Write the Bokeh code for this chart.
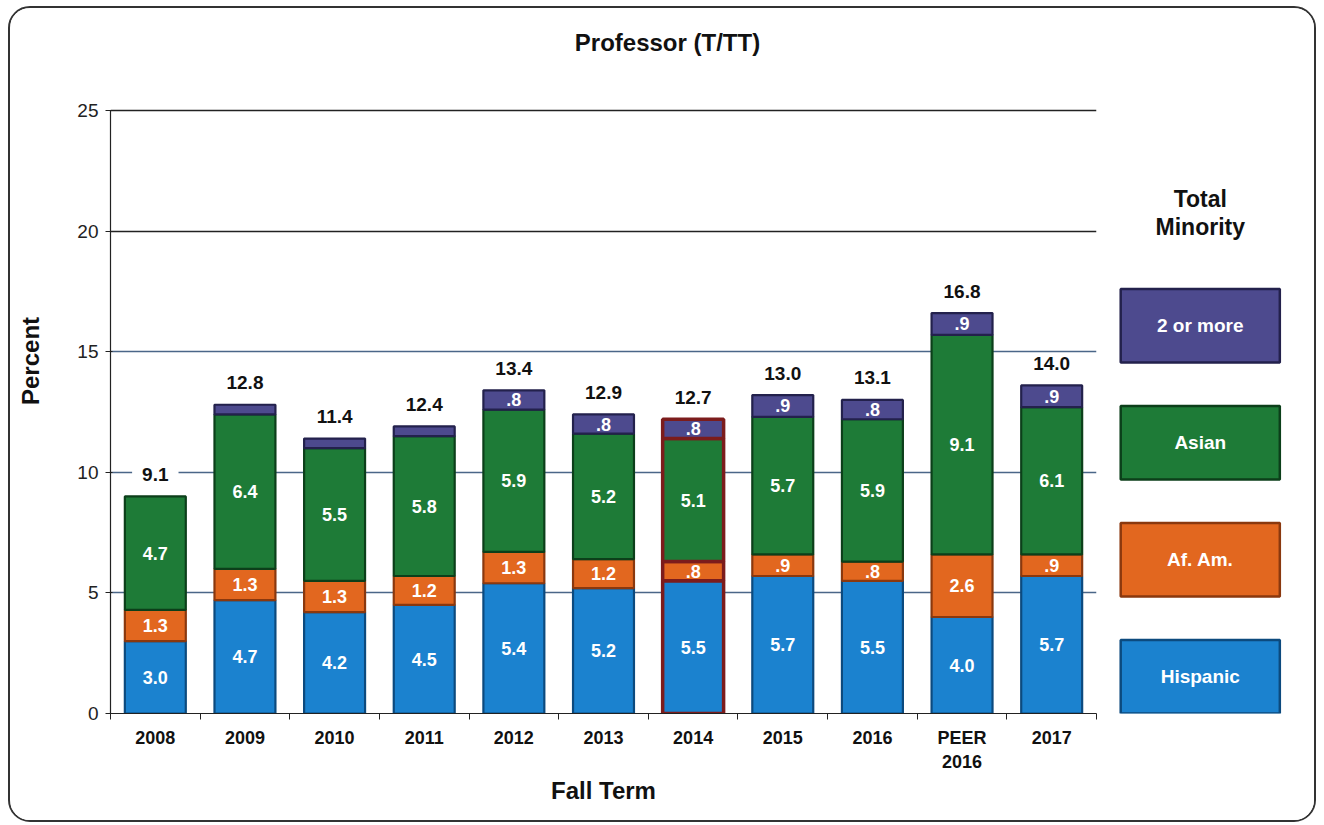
from bokeh.plotting import figure
from bokeh.layouts import row
from bokeh.models import ColumnDataSource, Range1d, FixedTicker, Grid, Label
from bokeh.core.properties import value
from bokeh.embed import file_html
from bokeh.resources import INLINE

# ---------------- data ----------------
categories = ["2008", "2009", "2010", "2011", "2012", "2013", "2014",
              "2015", "2016", "PEER\n2016", "2017"]
hispanic = [3.0, 4.7, 4.2, 4.5, 5.4, 5.2, 5.5, 5.7, 5.5, 4.0, 5.7]
af_am = [1.3, 1.3, 1.3, 1.2, 1.3, 1.2, 0.8, 0.9, 0.8, 2.6, 0.9]
asian = [4.7, 6.4, 5.5, 5.8, 5.9, 5.2, 5.1, 5.7, 5.9, 9.1, 6.1]
two_or_more = [0.0, 0.4, 0.4, 0.4, 0.8, 0.8, 0.8, 0.9, 0.8, 0.9, 0.9]
totals = [9.1, 12.8, 11.4, 12.4, 13.4, 12.9, 12.7, 13.0, 13.1, 16.8, 14.0]
y_ticks = [0, 5, 10, 15, 20, 25]

series_names = ["Hispanic", "Af. Am.", "Asian", "2 or more"]
series_values = [hispanic, af_am, asian, two_or_more]
series_colors = ["#1b82cf", "#e2671f", "#1e7b37", "#4d4a8e"]
edge_colors = ["#0c4a7e", "#8a380e", "#0c3f1a", "#23214c"]
highlight = "2014"
highlight_edge = "#7c1c1c"

TITLE = "Professor (T/TT)"
FONT = "Liberation Sans"


def fmt(v):
    s = f"{v:.1f}"
    return s[1:] if s.startswith("0") else s


n = len(categories)
xpos = [i + 0.5 for i in range(n)]

W, H = 1100, 812
BL, BB = 100, 107
TOP_GAP = 102                     # pixels between the canvas top and the 25 line
frame_h = H - BB
y_max = 25.0
y_end = y_max * frame_h / (frame_h - TOP_GAP)

p = figure(width=W, height=H, x_range=Range1d(0, n), y_range=Range1d(0, y_end),
           output_backend="svg", toolbar_location=None,
           min_border_left=BL, min_border_right=14,
           min_border_top=0, min_border_bottom=BB,
           outline_line_color=None, background_fill_color="white",
           border_fill_color="white")

# title (screen units measured from the frame's bottom-left corner)
title = Label(x=657 - BL, y=frame_h - 34, x_units="screen", y_units="screen",
              text=TITLE, text_font=FONT, text_font_size="24px",
              text_font_style="bold", text_color="#111111",
              text_align="center", text_baseline="middle")
p.add_layout(title)

# grids
p.xgrid.visible = False
p.ygrid[0].ticker = FixedTicker(ticks=[5, 10, 15])
p.ygrid[0].grid_line_color = "#4a6688"
p.ygrid[0].grid_line_width = 1.3
g2 = Grid(dimension=1, ticker=FixedTicker(ticks=[20, 25]),
          grid_line_color="#222222", grid_line_width=1.5)
p.add_layout(g2)

# x axis
xa = p.xaxis[0]
xa.ticker = FixedTicker(ticks=xpos, minor_ticks=list(range(n + 1)))
xa.major_label_overrides = {x: c for x, c in zip(xpos, categories)}
xa.major_tick_line_color = None
xa.major_tick_out = 0
xa.major_tick_in = 0
xa.minor_tick_line_color = "#222222"
xa.minor_tick_out = 6
xa.minor_tick_in = 0
xa.axis_line_color = "#222222"
xa.axis_line_width = 1.2
xa.major_label_text_font = FONT
xa.major_label_text_font_size = "18px"
xa.major_label_text_font_style = "bold"
xa.major_label_text_color = "#111111"
xa.major_label_standoff = 8
xa.axis_label = "Fall Term"
xa.axis_label_text_font = FONT
xa.axis_label_text_font_size = "24px"
xa.axis_label_text_font_style = "bold"
xa.axis_label_text_color = "#111111"
xa.axis_label_standoff = 2

# y axis
ya = p.yaxis[0]
ya.bounds = (0, y_max)
ya.ticker = FixedTicker(ticks=y_ticks)
ya.minor_tick_line_color = None
ya.major_tick_out = 5
ya.major_tick_in = 2
ya.major_tick_line_color = "#222222"
ya.axis_line_color = "#222222"
ya.axis_line_width = 1.2
ya.major_label_text_font = FONT
ya.major_label_text_font_size = "19px"
ya.major_label_text_color = "#222222"
ya.major_label_standoff = 7
ya.axis_label = "Percent"
ya.axis_label_text_font = FONT
ya.axis_label_text_font_size = "24px"
ya.axis_label_text_font_style = "bold"
ya.axis_label_text_color = "#111111"
ya.axis_label_standoff = 30

# stacked bars
bottom = [0.0] * n
for name, vals, col, edge in zip(series_names, series_values, series_colors, edge_colors):
    xs, bs, ts, lcs, lws, mids, labs, lxs = [], [], [], [], [], [], [], []
    for i in range(n):
        v = vals[i]
        b = bottom[i]
        t = b + v
        bottom[i] = t
        if v <= 0:
            continue
        xs.append(xpos[i])
        bs.append(b)
        ts.append(t)
        hl = categories[i] == highlight
        lcs.append(highlight_edge if hl else edge)
        lws.append(3.5 if hl else 2.2)
        if v >= 0.5:
            lxs.append(xpos[i])
            mids.append((b + t) / 2)
            labs.append(fmt(v))
    src = ColumnDataSource(dict(x=xs, bottom=bs, top=ts, lc=lcs, lw=lws))
    p.vbar(x="x", bottom="bottom", top="top", width=0.68, source=src,
           fill_color=col, line_color="lc", line_width="lw")
    lsrc = ColumnDataSource(dict(x=lxs, y=mids, text=labs))
    p.text(x="x", y="y", text="text", source=lsrc, text_color="white",
           text_font=value(FONT), text_font_size="18px", text_font_style="bold",
           text_align="center", text_baseline="middle")

# totals above bars
tsrc = ColumnDataSource(dict(x=xpos, y=bottom, text=[f"{t:.1f}" for t in totals]))
p.text(x="x", y="y", text="text", source=tsrc, y_offset=-22,
       text_color="#111111", text_font=value(FONT), text_font_size="19px",
       text_font_style="bold", text_align="center", text_baseline="middle",
       background_fill_color="white", padding=(10, 3))

# ---------------- legend panel ----------------
leg = figure(width=204, height=H, x_range=Range1d(0, 1), y_range=Range1d(0, y_end),
             output_backend="svg", toolbar_location=None,
             x_axis_type=None, y_axis_type=None,
             min_border_left=0, min_border_right=0,
             min_border_top=0, min_border_bottom=BB,
             outline_line_color=None, background_fill_color="white",
             border_fill_color="white")
leg.grid.visible = False

leg_bottoms = [0.0, 4.85, 9.7, 14.55]
leg_height = 3.05
lsrc = ColumnDataSource(dict(
    x=[0.44] * 4, bottom=leg_bottoms, top=[b + leg_height for b in leg_bottoms],
    fill=series_colors, edge=edge_colors, label=series_names,
    mid=[b + leg_height / 2 for b in leg_bottoms]))
leg.vbar(x="x", bottom="bottom", top="top", width=0.78, source=lsrc,
         fill_color="fill", line_color="edge", line_width=2.5)
leg.text(x="x", y="mid", text="label", source=lsrc, text_color="white",
         text_font=value(FONT), text_font_size="19px", text_font_style="bold",
         text_align="center", text_baseline="middle")
leg.text(x=[0.44], y=[20.75], text=["Total\nMinority"], text_color="#111111",
         text_font=value(FONT), text_font_size="23px", text_font_style="bold",
         text_align="center", text_baseline="middle", text_line_height=1.1)

layout = row(p, leg)
layout.styles = {"border": "2px solid #333333", "border-radius": "22px",
                 "overflow": "hidden", "background-color": "white",
                 "margin-left": "8px", "margin-top": "6px"}

open("out.html", "w").write(file_html(layout, INLINE))
